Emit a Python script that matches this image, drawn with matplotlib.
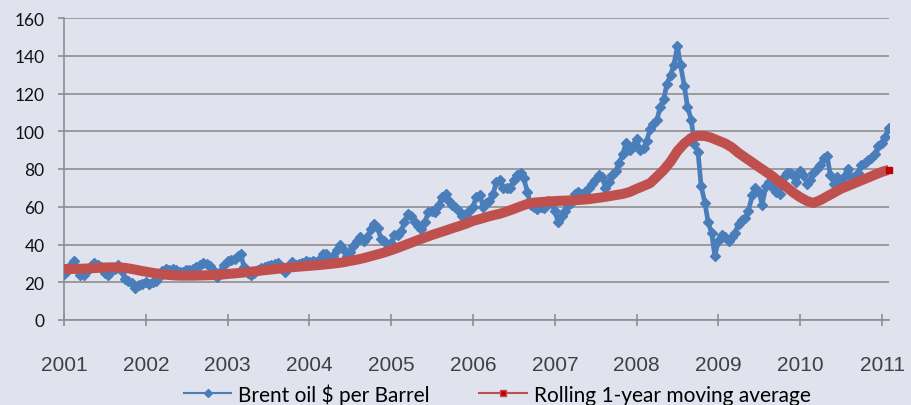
import numpy as np
import pandas as pd
import matplotlib
matplotlib.use("Agg")
import matplotlib.pyplot as plt
from matplotlib.lines import Line2D

# ---- Brent oil $ per barrel, semi-monthly readings (1st and 15th of each month) ----
brent_2001 = [24.5, 26, 29, 31, 27, 24, 24, 26, 28.5, 30, 29, 28, 25, 24, 26, 27, 29, 26, 21.5, 20.5, 19.5, 17, 18.5, 19]
brent_2002 = [20, 19, 20, 20.5, 23, 26, 27, 26.5, 27, 26.5, 25.5, 25.5, 26.5, 26.5, 27, 28, 29, 30, 29.5, 28.5, 26, 23, 26, 29]
brent_2003 = [31, 32, 32.5, 34, 35, 28, 25, 24, 25, 26.5, 27.5, 28, 28.5, 29, 29.5, 30, 28, 25.5, 28, 30.5, 29, 29.5, 30, 31]
brent_2004 = [30.5, 31.5, 30.5, 32, 35, 35, 32.5, 34, 37, 39.5, 37.5, 34, 36, 39, 42, 44, 42, 44, 48, 51, 49, 43, 42, 38]
brent_2005 = [41, 45, 45, 47, 52, 56, 55, 52, 50, 48, 52, 57, 58, 57, 61, 65, 67, 63, 61, 60, 58, 55, 56, 58]
brent_2006 = [60, 65, 66, 60, 62, 63, 67, 73, 74, 70, 70, 70, 74, 77, 78, 75, 68, 61, 60, 59, 60, 59.5, 63, 62]
brent_2007 = [58, 52, 55, 58, 61, 62, 67, 68, 67, 68, 70, 72, 74, 77, 76, 70, 73, 77, 79, 83, 88, 94, 90, 92]
brent_2008 = [96, 90, 91, 95, 101, 104, 106, 113, 117, 125, 130, 135, 145, 135, 124, 113, 106, 93, 89, 71, 62, 52, 46, 34]
brent_2009 = [42, 45, 44, 42, 44, 46, 51, 53, 54, 58, 66, 70, 68, 61, 71, 73, 70, 68, 67, 75, 78, 78, 77, 73]
brent_2010 = [79, 77, 72, 74, 78, 80, 82, 86, 87, 77, 72, 76, 74, 76, 80, 76, 76, 78, 82, 83, 85, 86, 88, 92]
brent_2011 = [94, 97, 101.5]

# ---- Rolling 1-year moving average, monthly readings (1st of each month) ----
ma_2001 = [27.0, 27.0, 27.1, 27.2, 27.4, 27.6, 27.8, 27.9, 27.9, 27.6, 27.0, 26.3]
ma_2002 = [25.6, 25.0, 24.5, 24.0, 23.7, 23.5, 23.5, 23.5, 23.6, 23.7, 23.8, 24.0]
ma_2003 = [24.4, 24.7, 25.0, 25.4, 25.8, 26.2, 26.6, 27.0, 27.4, 27.8, 28.1, 28.4]
ma_2004 = [28.7, 29.0, 29.3, 29.7, 30.1, 30.6, 31.3, 32.0, 32.8, 33.8, 34.8, 35.8]
ma_2005 = [37.0, 38.3, 39.6, 41.0, 42.4, 43.7, 45.0, 46.2, 47.4, 48.6, 49.8, 51.0]
ma_2006 = [52.5, 53.5, 54.5, 55.5, 56.3, 57.5, 58.8, 60.2, 61.5, 62.2, 62.5, 62.8]
ma_2007 = [63.0, 63.2, 63.3, 63.5, 63.7, 64.0, 64.5, 65.0, 65.6, 66.2, 66.8, 67.8]
ma_2008 = [69.5, 71.0, 72.5, 76.0, 79.5, 84.0, 89.5, 93.5, 96.5, 97.6, 97.5, 96.5]
ma_2009 = [95.0, 93.5, 91.5, 88.5, 86.0, 83.5, 81.0, 78.5, 76.0, 73.0, 70.5, 67.5]
ma_2010 = [65.0, 63.0, 62.0, 63.5, 65.5, 67.5, 69.5, 71.0, 72.5, 74.0, 75.5, 77.0]
ma_2011 = [78.5, 79.6]

year_ticks = [2001, 2002, 2003, 2004, 2005, 2006, 2007, 2008, 2009, 2010, 2011]
y_ticks = [0, 20, 40, 60, 80, 100, 120, 140, 160]
series_labels = ["Brent oil $ per Barrel", "Rolling 1-year moving average"]

brent = (brent_2001 + brent_2002 + brent_2003 + brent_2004 + brent_2005 + brent_2006
         + brent_2007 + brent_2008 + brent_2009 + brent_2010 + brent_2011)
ma = (ma_2001 + ma_2002 + ma_2003 + ma_2004 + ma_2005 + ma_2006
      + ma_2007 + ma_2008 + ma_2009 + ma_2010 + ma_2011)


def to_year(dates):
    d = pd.DatetimeIndex(dates)
    start = pd.to_datetime(d.year.astype(str) + "-01-01")
    return d.year + (d - start).days / 365.25


months = pd.date_range("2001-01-01", periods=122, freq="MS")
semi = []
for m in months:
    semi.append(m)
    semi.append(m + pd.Timedelta(days=14))
semi = semi[:len(brent)]
x_brent = to_year(semi)
x_ma = np.array(to_year(pd.date_range("2001-01-01", periods=len(ma), freq="MS")), dtype=float)
x_ma[-1] = 2011.085  # last point sits at the right edge (early Feb 2011)

BG = "#E0E2EE"
BLUE = "#4A7EBB"
RED = "#C0504D"
GRID = "#8F8F8F"

fig = plt.figure(figsize=(9.12, 4.06), dpi=100, facecolor=BG)
ax = fig.add_axes([64 / 912, 85 / 406, 825 / 912, 302 / 406], facecolor=BG)

ax.plot(x_brent, brent, color=BLUE, lw=3.4, marker="D", ms=5.6, mec=BLUE, mfc=BLUE,
        solid_joinstyle="round", zorder=3)
ax.plot(x_ma, ma, color=RED, lw=7.2, solid_capstyle="butt", solid_joinstyle="round", zorder=4)
ax.plot([x_ma[-1]], [ma[-1]], marker="s", ms=5, color="#C00000", zorder=5, clip_on=False)

ax.set_xlim(2001, 2011.085)
ax.set_ylim(0, 160)
ax.set_yticks(y_ticks)
ax.set_xticks(year_ticks)
ax.set_xticklabels([str(y) for y in year_ticks], fontsize=15, color="#404040",
                   family=["Liberation Sans", "DejaVu Sans"])
ax.set_yticklabels([str(v) for v in y_ticks], fontsize=12.5, color="#111111",
                   family=["Lato", "DejaVu Sans"])

ax.grid(axis="y", color=GRID, lw=1.2, zorder=1)
ax.set_axisbelow(True)
for s in ["top", "right"]:
    ax.spines[s].set_visible(False)
for s in ["left", "bottom"]:
    ax.spines[s].set_color(GRID)
    ax.spines[s].set_linewidth(1.2)
ax.tick_params(axis="y", direction="out", length=4.5, width=1.2, color=GRID, pad=9.5)
ax.tick_params(axis="x", direction="inout", length=9, width=1.2, color=GRID, pad=21)

handles = [
    Line2D([], [], color=BLUE, lw=1.5, marker="D", ms=4.5, mfc=BLUE, mec=BLUE),
    Line2D([], [], color=RED, lw=1.5, marker="s", ms=5, mfc="#C00000", mec=RED),
]
leg = fig.legend(handles, series_labels, loc="center", bbox_to_anchor=(497 / 912, 11 / 406),
                 ncol=2, frameon=False, handlelength=2.3, handletextpad=0.3,
                 columnspacing=2.4, prop={"family": ["Lato", "DejaVu Sans"], "size": 15})

fig.savefig("out.png", dpi=100, facecolor=BG)
